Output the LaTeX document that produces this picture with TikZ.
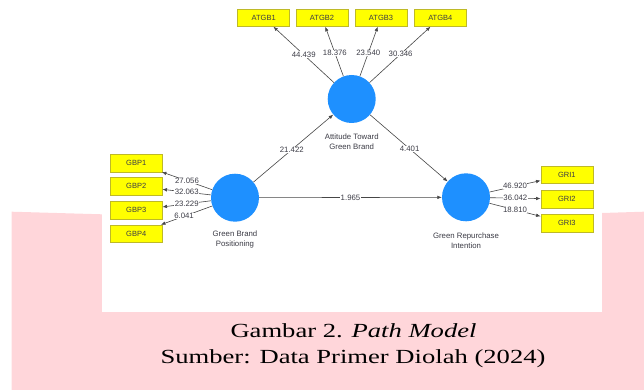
\documentclass[tikz,border=0pt]{standalone}
\usepackage{fontspec}
\setmainfont{Liberation Serif}
\newfontfamily\diafont{Liberation Sans}
\usepackage{graphicx}
\usetikzlibrary{arrows.meta}
\definecolor{pinkbg}{RGB}{255,214,218}
\definecolor{lvblue}{RGB}{30,144,255}
\definecolor{boxyellow}{RGB}{255,255,0}
\definecolor{boxedge}{RGB}{190,185,40}
\definecolor{linegray}{RGB}{70,70,70}
\definecolor{txtgray}{RGB}{60,60,70}
\begin{document}
\begin{tikzpicture}[x=1pt,y=-1pt,
 latent/.style={circle,fill=lvblue,draw=none,minimum size=48pt,inner sep=0pt},
 indbox/.style={rectangle,fill=boxyellow,draw=boxedge,line width=0.5pt,minimum width=52pt,minimum height=17.5pt,inner sep=0pt,font=\diafont\fontsize{7.5}{9}\selectfont,text=txtgray},
 lvlabel/.style={font=\diafont\fontsize{7.8}{10}\selectfont,text=txtgray,align=center,inner sep=0pt},
 conn/.style={draw=linegray,line width=0.6pt,-{Latex[length=4.5pt,width=3.6pt]}},
 coef/.style={fill=white,inner sep=0.4pt,font=\diafont\fontsize{7.8}{9}\selectfont,text=txtgray},
 captext/.style={font=\fontsize{20}{24}\selectfont,anchor=base,inner sep=0pt}
]
\useasboundingbox (0,0) rectangle (644,390);
\fill[pinkbg] (11.7,211.7) -- (102,214.3) -- (602,213) -- (644,211.7) -- (644,390) -- (11.7,390) -- cycle;
\fill[white] (102,0) rectangle (602,312);

% latent variables
\node[latent] (atgb) at (351.7,99) {};
\node[latent] (gbp) at (235,197.7) {};
\node[latent] (gri) at (466,197.3) {};
\node[lvlabel] (atgbl) at (351.7,141.3) {Attitude Toward\\Green Brand};
\node[lvlabel] (gbpl) at (235,239.7) {Green Brand\\Positioning};
\node[lvlabel] (gril) at (466,240.8) {Green Repurchase\\Intention};

% indicators
\node[indbox] (a1) at (263.7,17.7) {ATGB1};
\node[indbox] (a2) at (322,17.7) {ATGB2};
\node[indbox] (a3) at (381,17.7) {ATGB3};
\node[indbox] (a4) at (440.3,17.7) {ATGB4};
\node[indbox] (g1) at (136.2,163) {GBP1};
\node[indbox] (g2) at (136.2,186.3) {GBP2};
\node[indbox] (g3) at (136.2,210.3) {GBP3};
\node[indbox] (g4) at (136.2,233.7) {GBP4};
\node[indbox] (r1) at (566.8,174.7) {GRI1};
\node[indbox] (r2) at (566.8,199) {GRI2};
\node[indbox] (r3) at (566.8,223) {GRI3};

% outer loadings
\draw[conn] (atgb) -- node[coef,pos=0.5]{44.439} (a1);
\draw[conn] (atgb) -- node[coef,pos=0.47]{18.376} (a2);
\draw[conn] (atgb) -- node[coef,pos=0.47]{23.540} (a3);
\draw[conn] (atgb) -- node[coef,pos=0.51]{30.346} (a4);
\draw[conn] (gbp) -- node[coef,pos=0.5]{27.056} (g1);
\draw[conn] (gbp) -- node[coef,pos=0.5]{32.063} (g2);
\draw[conn] (gbp) -- node[coef,pos=0.5]{23.229} (g3);
\draw[conn] (gbp) -- node[coef,pos=0.55]{6.041} (g4);
\draw[conn] (gri) -- node[coef,pos=0.5]{46.920} (r1);
\draw[conn] (gri) -- node[coef,pos=0.5]{36.042} (r2);
\draw[conn] (gri) -- node[coef,pos=0.5]{18.810} (r3);

% structural paths
\draw[conn] (gbp) -- node[coef,pos=0.48]{21.422} (atgb);
\draw[conn] (atgb) -- node[coef,pos=0.51]{4.401} (gri);
\draw[conn] (gbp) -- node[coef,pos=0.5]{1.965} (gri);

% caption
\node[captext] (cap1) at (353.5,337.3) {\scalebox{1.33}[1]{Gambar 2. \textit{Path Model}}};
\node[captext] (cap2) at (353,363.3) {\scalebox{1.33}[1]{Sumber: Data Primer Diolah (2024)}};
\end{tikzpicture}
\end{document}
